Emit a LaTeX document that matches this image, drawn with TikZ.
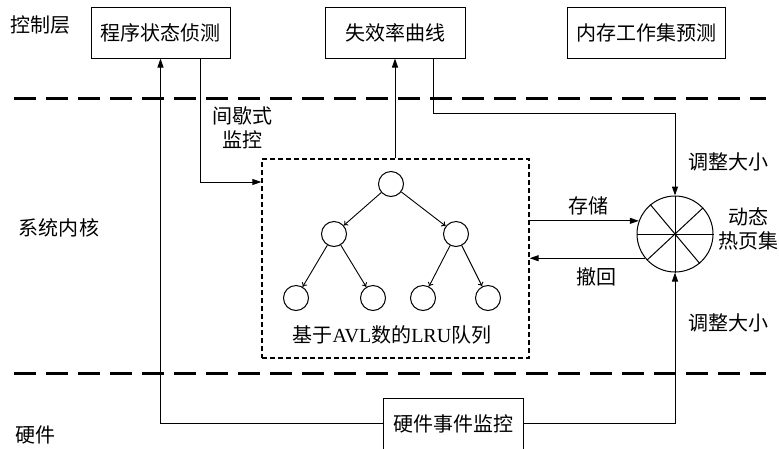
\documentclass[tikz,border=0pt]{standalone}
\usepackage{fontspec}
\setmainfont{Liberation Serif}
\newfontfamily\cjk{Noto Sans CJK SC}
\usetikzlibrary{arrows.meta}
\begin{document}
\begin{tikzpicture}[x=1pt,y=-1pt,
  every node/.style={font=\cjk\fontsize{20}{24}\selectfont},
  box/.style={draw, line width=1pt, minimum height=51pt, inner sep=0pt},
  arr/.style={line width=1pt, -{Triangle[length=9pt,width=6pt]}},
  sep/.style={line width=3pt, dash pattern=on 22pt off 10pt},
  tn/.style={draw, circle, line width=1pt, minimum size=25pt, inner sep=0pt},
  ta/.style={line width=0.9pt, -{To[length=4pt,width=6pt]}},
  lab/.style={inner sep=0pt, align=center},
]
\useasboundingbox (0,0) rectangle (779,448);
% separators
\coordinate (s1a) at (14,98); \coordinate (s1b) at (766,98);
\coordinate (s2a) at (14,373); \coordinate (s2b) at (766,373);
\draw[sep] (s1a) -- (s1b);
\draw[sep] (s2a) -- (s2b);
% layer labels
\node[lab] (lc) at (40,25) {控制层};
\node[lab] (lk) at (59,228) {系统内核};
\node[lab] (lh) at (35,435) {硬件};
% boxes
\node[box, minimum width=139pt] (b1) at (160.5,32.5) {程序状态侦测};
\node[box, minimum width=140pt] (b2) at (395,32.5) {失效率曲线};
\node[box, minimum width=158pt] (b3) at (646,32.5) {内存工作集预测};
\node[box, minimum width=140pt] (b4) at (453,423.5) {硬件事件监控};
% dashed box
\node[draw, line width=1.3pt, dash pattern=on 5pt off 3pt, minimum width=267pt, minimum height=199pt, inner sep=0pt] (dbox) at (395.5,258.5) {};
% hot page set
\node[draw, circle, line width=1pt, minimum size=76pt, inner sep=0pt] (hot) at (675,234) {};
\draw[line width=1pt] (hot.north) -- (hot.south);
\draw[line width=1pt] (hot.west) -- (hot.east);
\draw[line width=1pt] (hot.130) -- (hot.-50);
\draw[line width=1pt] (hot.43) -- (hot.223);
% tree
\node[tn] (r) at (391,184) {};
\node[tn] (l) at (334,234) {};
\node[tn] (rr0) at (456,234) {};
\node[tn] (ll) at (296,298) {};
\node[tn] (lr) at (373,298) {};
\node[tn] (rl) at (423,298) {};
\node[tn] (rr) at (488,298) {};
\draw[ta] (r) -- (l);
\draw[ta] (r) -- (rr0);
\draw[ta] (l) -- (ll);
\draw[ta] (l) -- (lr);
\draw[ta] (rr0) -- (rl);
\draw[ta] (rr0) -- (rr);
\node[lab] (avl) at (392,335) {基于{\rmfamily AVL}数的{\rmfamily LRU}队列};
% connectors
\coordinate (p1) at (200,182);
\coordinate (p2) at (433,113);
\draw[arr] (b4.west) -| (b1.south);
\draw[arr] (b1.south -| p1) -- (p1) -- (dbox.west |- p1);
\draw[arr] (dbox.north -| b2.south) -- (b2.south);
\draw[arr] (b2.south -| p2) -- (p2) -| (hot.north);
\draw[arr] (b4.east) -| (hot.south);
\draw[arr] (dbox.east |- hot.160) -- (hot.160);
\draw[arr] (hot.219) -- (dbox.east |- hot.219);
% labels
\node[lab] (jx) at (242,128) {间歇式\\监控};
\node[lab] (cc) at (588,206) {存储};
\node[lab] (ch) at (596,277) {撤回};
\node[lab] (t1) at (728,162) {调整大小};
\node[lab] (t2) at (728,323) {调整大小};
\node[lab] (dt) at (748,229) {动态\\热页集};
\end{tikzpicture}
\end{document}
